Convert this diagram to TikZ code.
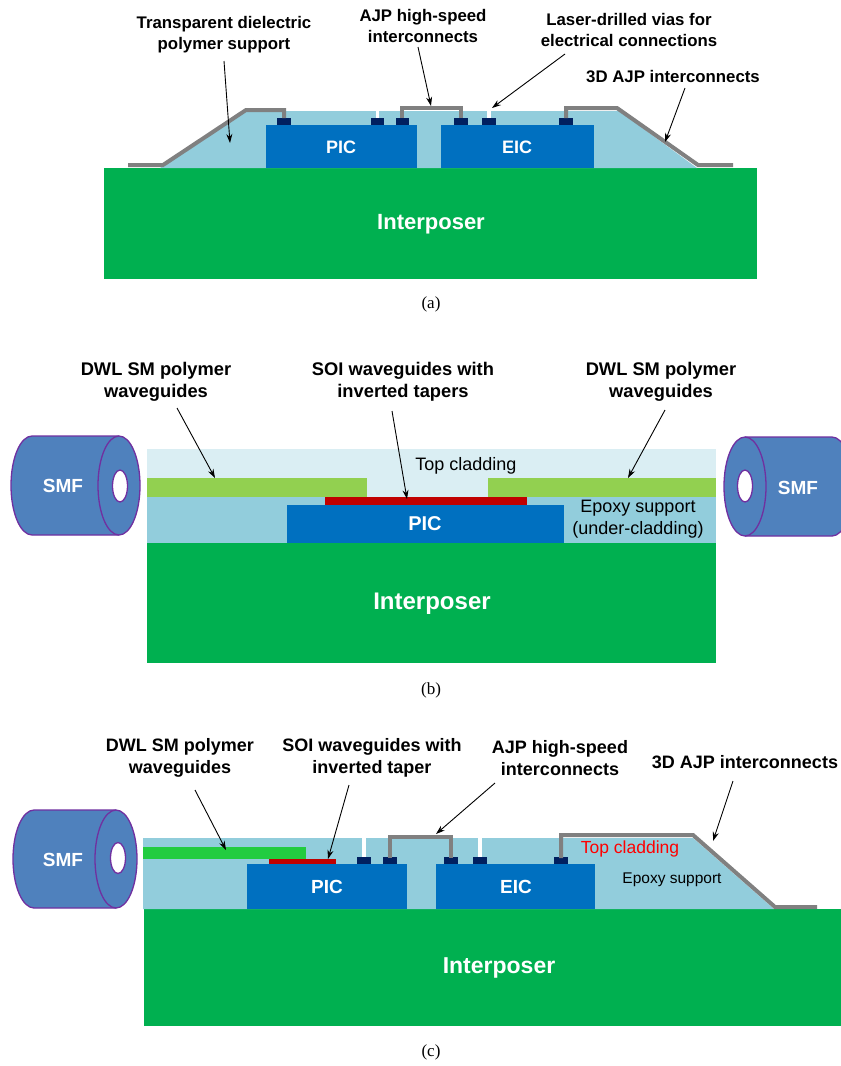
\documentclass[tikz,border=0pt]{standalone}
\usepackage{fontspec}
\setmainfont{Liberation Sans}
\newfontfamily\capfont{Liberation Serif}
\usetikzlibrary{arrows.meta}

\definecolor{interposer}{HTML}{00B050}
\definecolor{polymer}{HTML}{92CDDC}
\definecolor{cladding}{HTML}{DAEEF3}
\definecolor{chip}{HTML}{0070C0}
\definecolor{padnavy}{HTML}{002060}
\definecolor{wire}{HTML}{808080}
\definecolor{soi}{HTML}{C00000}
\definecolor{wgb}{HTML}{92D050}
\definecolor{wgc}{HTML}{22CC40}
\definecolor{fiber}{HTML}{4F81BD}
\definecolor{fiberedge}{HTML}{7030A0}

\tikzset{
  fs/.style={font=\fontsize{#1}{#1}\selectfont},
  lab/.style={font=\bfseries\fontsize{16.8}{21}\selectfont, align=center, inner sep=0pt},
  labb/.style={font=\bfseries\fontsize{18.3}{22}\selectfont, align=center, inner sep=0pt},
  labc/.style={font=\bfseries\fontsize{18}{21.5}\selectfont, align=center, inner sep=0pt},
  arr/.style={-{Stealth[length=9pt,width=6pt]}, line width=0.9pt, black},
  gline/.style={line width=4pt, draw=wire},
  padbox/.style={fill=padnavy},
  chipbox/.style={fill=chip},
  via/.style={fill=white},
  intext/.style={text=white, font=\bfseries\fontsize{#1}{#1}\selectfont, inner sep=0pt},
  caption/.style={font=\capfont\fontsize{17}{17}\selectfont, inner sep=0pt},
  fibre/.style={fill=fiber, draw=fiberedge, line width=1.3pt},
  hole/.style={fill=white, draw=fiberedge, line width=1.3pt},
}

\begin{document}
\begin{tikzpicture}[x=1pt, y=-1pt]
\clip (0,0) rectangle (841,1066);
\fill[white] (0,0) rectangle (841,1066);

%% ---------------- (a) ----------------
\fill[interposer] (104,168) rectangle (757,279);
\node[intext=22] (intA) at (431,224) {Interposer};
\fill[polymer] (160,168) -- (247,111) -- (619,111) -- (697,168) -- cycle;
\fill[chipbox] (266,125) rectangle (417,168);
\fill[chipbox] (441,125) rectangle (594,168);
\node[intext=18] (picA) at (341,147) {PIC};
\node[intext=18] (eicA) at (517,147) {EIC};
\foreach \xa/\xb in {277/291, 371/384, 396/409, 454/468, 482/496, 559/573}
  \fill[padbox] (\xa,118) rectangle (\xb,125);
\fill[via] (376,110) rectangle (379,118);
\fill[via] (487,110) rectangle (491,118);
\draw[gline] (128,165) -- (163,165) -- (246,110) -- (284,110) -- (284,118);
\draw[gline] (402,118) -- (402,108) -- (461,108) -- (461,118);
\draw[gline] (566,118) -- (566,108) -- (617,108) -- (698,165) -- (733,165);

\node[lab] (tdsA) at (224,35) {Transparent dielectric\\polymer support};
\node[lab] (hsA) at (423,26) {AJP high-speed\\interconnects};
\node[lab] (viaA) at (629,30) {Laser-drilled vias for\\electrical connections};
\node[lab] (ajpA) at (673,77) {3D AJP interconnects};
\coordinate (tdsAt) at (224,61);   \coordinate (tdsAh) at (230,143);
\coordinate (hsAt) at (418,47);    \coordinate (hsAh) at (431,106);
\coordinate (viaAt) at (565,54);   \coordinate (viaAh) at (492,108);
\coordinate (ajpAt) at (685,88);   \coordinate (ajpAh) at (665,142);
\draw[arr] (tdsAt) -- (tdsAh);
\draw[arr] (hsAt) -- (hsAh);
\draw[arr] (viaAt) -- (viaAh);
\draw[arr] (ajpAt) -- (ajpAh);
\node[caption] (capA) at (431,304) {(a)};

%% ---------------- (b) ----------------
\fill[interposer] (147,543) rectangle (716,663);
\node[intext=24] (intB) at (432,604) {Interposer};
\fill[cladding] (147,449) rectangle (716,497);
\fill[polymer] (147,497) rectangle (716,543);
\fill[wgb] (147,478) rectangle (367,497);
\fill[wgb] (488,478) rectangle (716,497);
\fill[soi] (325,497) rectangle (527,505);
\fill[chipbox] (287,505) rectangle (564,543);
\node[intext=20] (picB) at (425,524) {PIC};
\node[fs=18, inner sep=0pt] (tcB) at (466,466) {Top cladding};
\node[font=\fontsize{18}{22}\selectfont, align=center, inner sep=0pt] (epB) at (638,519) {Epoxy support\\(under-cladding)};

% fibres
\fill[fiber] (32,436) arc[start angle=270, end angle=90, x radius=21, y radius=49.5]
  -- (119,535) arc[start angle=90, end angle=-90, x radius=21, y radius=49.5] -- cycle;
\draw[fiberedge, line width=1.3pt] (119,436) -- (32,436)
  arc[start angle=270, end angle=90, x radius=21, y radius=49.5] -- (119,535);
\draw[fibre] (119,485.5) ellipse[x radius=21, y radius=49.5];
\draw[hole] (120,486) ellipse[x radius=7.5, y radius=16];
\node[intext=19] (smfBl) at (63,486) {SMF};

\fill[fiber] (745,437) -- (832,437) arc[start angle=270, end angle=450, x radius=21, y radius=49.5]
  -- (745,536) -- cycle;
\draw[fiberedge, line width=1.3pt] (745,437) -- (832,437)
  arc[start angle=270, end angle=450, x radius=21, y radius=49.5] -- (745,536);
\draw[fibre] (745,486.5) ellipse[x radius=21, y radius=49.5];
\draw[hole] (745,486) ellipse[x radius=7.5, y radius=16];
\node[intext=19] (smfBr) at (798,488) {SMF};

\node[labb] (dwlBl) at (156,382) {DWL SM polymer\\waveguides};
\node[labb] (soiB) at (403,382) {SOI waveguides with\\inverted tapers};
\node[labb] (dwlBr) at (661,382) {DWL SM polymer\\waveguides};
\coordinate (dwlBlt) at (177,408); \coordinate (dwlBlh) at (215,478);
\coordinate (soiBt) at (392,411);  \coordinate (soiBh) at (407,499);
\coordinate (dwlBrt) at (665,410); \coordinate (dwlBrh) at (628,478);
\draw[arr] (dwlBlt) -- (dwlBlh);
\draw[arr] (soiBt) -- (soiBh);
\draw[arr] (dwlBrt) -- (dwlBrh);
\node[caption] (capB) at (431,690) {(b)};

%% ---------------- (c) ----------------
\fill[interposer] (144,909) rectangle (841,1026);
\node[intext=23] (intC) at (499,968) {Interposer};
\fill[polymer] (143,838) -- (693,838) -- (774,909) -- (143,909) -- cycle;
\fill[wgc] (143,847) rectangle (306,859);
\fill[soi] (269,859) rectangle (336,864);
\fill[chipbox] (247,864) rectangle (407,909);
\fill[chipbox] (436,864) rectangle (595,909);
\node[intext=19] (picC) at (327,887) {PIC};
\node[intext=19] (eicC) at (516,887) {EIC};
\foreach \xa/\xb in {357/371, 383/397, 444/458, 473/487, 554/568}
  \fill[padbox] (\xa,857) rectangle (\xb,864);
\fill[via] (362,838) rectangle (366,857);
\fill[via] (478,838) rectangle (482,857);
\draw[gline] (390,858) -- (390,837) -- (451,837) -- (451,858);
\draw[gline] (561,858) -- (561,835) -- (693,835) -- (775,907) -- (817,907);
\node[fs=17.5, text=red, inner sep=0pt] (tcC) at (630,849) {Top cladding};
\node[fs=15.5, inner sep=0pt] (epC) at (672,880) {Epoxy support};

\fill[fiber] (34,810) arc[start angle=270, end angle=90, x radius=21, y radius=49]
  -- (116,908) arc[start angle=90, end angle=-90, x radius=21, y radius=49] -- cycle;
\draw[fiberedge, line width=1.3pt] (116,810) -- (34,810)
  arc[start angle=270, end angle=90, x radius=21, y radius=49] -- (116,908);
\draw[fibre] (116,859) ellipse[x radius=21, y radius=49];
\draw[hole] (118,858) ellipse[x radius=7.5, y radius=15.5];
\node[intext=19] (smfC) at (63,860) {SMF};

\node[labc] (dwlC) at (180,758) {DWL SM polymer\\waveguides};
\node[labc] (soiC) at (372,758) {SOI waveguides with\\inverted taper};
\node[labc] (hsC) at (560,758) {AJP high-speed\\interconnects};
\node[labc] (ajpC) at (745,762) {3D AJP interconnects};
\coordinate (dwlCt) at (195,790); \coordinate (dwlCh) at (226,850);
\coordinate (soiCt) at (349,785); \coordinate (soiCh) at (328,859);
\coordinate (hsCt) at (495,783);  \coordinate (hsCh) at (436,834);
\coordinate (ajpCt) at (733,781); \coordinate (ajpCh) at (713,841);
\draw[arr] (dwlCt) -- (dwlCh);
\draw[arr] (soiCt) -- (soiCh);
\draw[arr] (hsCt) -- (hsCh);
\draw[arr] (ajpCt) -- (ajpCh);
\node[caption] (capC) at (431,1052) {(c)};
\end{tikzpicture}
\end{document}
